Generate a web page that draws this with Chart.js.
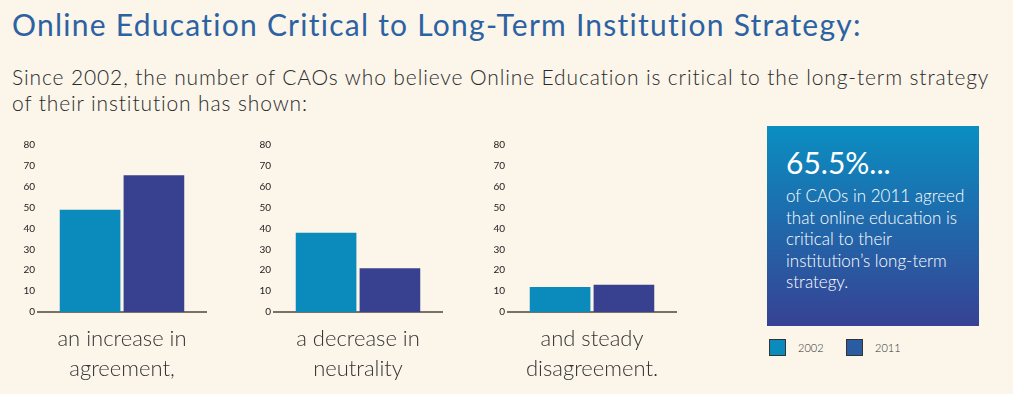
<!DOCTYPE html>
<html>
<head>
<meta charset="utf-8">
<script src="https://cdn.jsdelivr.net/npm/chart.js@4/dist/chart.umd.min.js"></script>
<style>
    html, body { margin: 0; padding: 0; }
    body {
        width: 1013px;
        height: 394px;
        background: #fbf5ea;
        position: relative;
        overflow: hidden;
        font-family: 'Lato', 'Open Sans', sans-serif;
    }
    .title {
        position: absolute; left: 12px; top: 6px;
        font-size: 30px; letter-spacing: 1.25px; color: #2c62a2; white-space: nowrap;
    }
    .subtitle {
        position: absolute; left: 12px; top: 64px;
        font-size: 21px; line-height: 26px; letter-spacing: 0.88px; color: #2a2a2a; font-weight: 300;
        white-space: nowrap;
    }
    .chart-box { position: absolute; top: 135px; width: 190px; height: 259px; }
    .callout {
        position: absolute; left: 767px; top: 126px; width: 212px; height: 200px;
        background: linear-gradient(to bottom, #0a8ec1, #374294);
        color: #fff;
    }
    .callout .big { position: absolute; left: 19px; top: 18px; font-size: 30px; }
    .callout .body {
        position: absolute; left: 19px; top: 59px; font-size: 17px; line-height: 21.5px;
        letter-spacing: 0px; font-weight: 300; white-space: nowrap;
    }
    .legend { position: absolute; top: 339px; left: 769px; }
    .legend-item { position: absolute; top: 0; white-space: nowrap; font-size: 11px; color: #333; }
    .legend-item span.sw {
        position: absolute; left: 0; top: 0; width: 17px; height: 17px;
        border: 1px solid #333; box-sizing: border-box;
    }
    .legend-item span.lbl { position: absolute; left: 29px; top: 2px; font-weight: 300; }
</style>
</head>
<body>
<div class="title">Online Education Critical to Long-Term Institution Strategy:</div>
<div class="subtitle">Since 2002, the number of CAOs who believe Online Education is critical to the long-term strategy<br>of their institution has shown:</div>

<div class="chart-box" style="left:20px"><canvas id="chart0"></canvas></div>
<div class="chart-box" style="left:256px"><canvas id="chart1"></canvas></div>
<div class="chart-box" style="left:490px"><canvas id="chart2"></canvas></div>

<div class="callout">
    <div class="big">65.5%...</div>
    <div class="body">of CAOs in 2011 agreed<br>that online education is<br>critical to their<br>institution’s long-term<br>strategy.</div>
</div>

<div class="legend" id="legend"></div>

<script>
// Data
const categories = [
    ['an increase in', 'agreement,'],
    ['a decrease in', 'neutrality'],
    ['and steady', 'disagreement.']
];
const seriesNames = ['2002', '2011'];
const values2002 = [49, 38, 12];
const values2011 = [65.5, 21, 13];
const yTicks = [0, 10, 20, 30, 40, 50, 60, 70, 80];

const barColors = ['#0b8bbb', '#38418f'];
const legendColors = ['#0b8bbb', '#2a5ca2'];

/**
 * Build one small bar chart for a single category
 */
function buildChart(index) {
    const ctx = document.getElementById('chart' + index);
    const series = [values2002, values2011];

    new Chart(ctx, {
        type: 'bar',
        data: {
            labels: [categories[index]],
            datasets: seriesNames.map((name, s) => ({
                label: name,
                data: [series[s][index]],
                backgroundColor: barColors[s],
                borderWidth: 0,
                categoryPercentage: 0.76,
                barPercentage: 0.95
            }))
        },
        options: {
            responsive: true,
            maintainAspectRatio: false,
            animation: false,
            layout: { padding: { top: 10, right: 4, left: 0, bottom: 0 } },
            plugins: {
                legend: { display: false },
                tooltip: { enabled: false }
            },
            scales: {
                y: {
                    min: 0,
                    max: 80,
                    afterBuildTicks: function (scale) {
                        scale.ticks = yTicks.map(v => ({ value: v }));
                    },
                    afterFit: function (scale) {
                        scale.width = 18;
                    },
                    ticks: {
                        padding: 3,
                        font: { size: 10, family: "'Lato', sans-serif" },
                        color: '#222'
                    },
                    grid: { display: false, drawTicks: false },
                    border: { display: false }
                },
                x: {
                    afterFit: function (scale) {
                        scale.height = 82;
                    },
                    ticks: {
                        padding: 12,
                        font: { size: 22, weight: '300', family: "'Lato', sans-serif", lineHeight: 1.36 },
                        color: '#333'
                    },
                    grid: { display: false, drawTicks: false },
                    border: { display: true, color: '#7a7068', width: 2 }
                }
            }
        }
    });
}

categories.forEach((c, i) => buildChart(i));

// Legend
const legendEl = document.getElementById('legend');
seriesNames.forEach((name, i) => {
    const item = document.createElement('div');
    item.className = 'legend-item';
    item.style.left = (i * 77) + 'px';
    item.innerHTML = '<span class="sw" style="background:' + legendColors[i] + '"></span><span class="lbl">' + name + '</span>';
    legendEl.appendChild(item);
});
</script>
</body>
</html>
